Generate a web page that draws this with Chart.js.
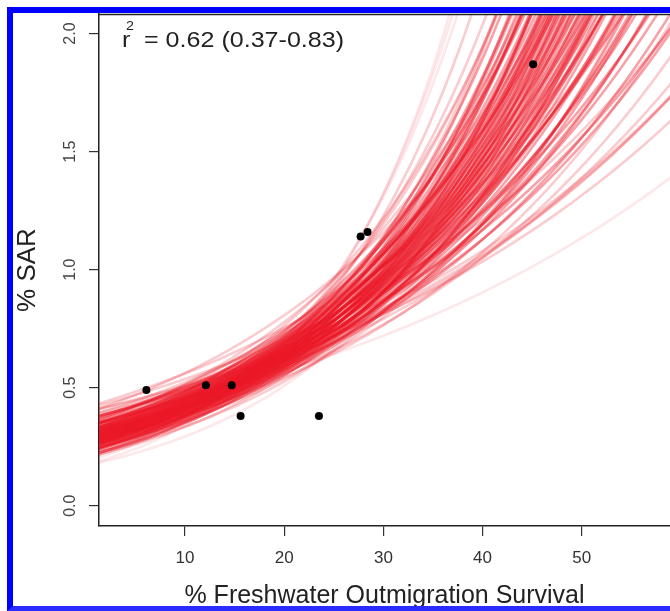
<!DOCTYPE html>
<html><head><meta charset="utf-8">
<script src="https://cdn.jsdelivr.net/npm/chart.js@4/dist/chart.umd.min.js"></script>
<style>
html,body{margin:0;padding:0;background:#fff;overflow:hidden;width:670px;height:611px;}
#wrap{position:relative;width:670px;height:611px;overflow:hidden;}
#c{position:absolute;left:0;top:0;}
#frame{position:absolute;left:7px;top:7px;width:700px;height:593px;border-left:6px solid #0000ff;border-top:6px solid #0000ff;border-bottom:5px solid #2b2bff;pointer-events:none;}
</style></head><body>
<div id="wrap"><canvas id="c" width="670" height="611"></canvas><div id="frame"></div></div>
<script>
// Observed points
const survival = [6.1, 12.1, 14.7, 15.6, 23.5, 27.7, 28.4, 45.1];
const sarPct   = [0.49, 0.51, 0.51, 0.38, 0.38, 1.14, 1.16, 1.87];

// Axis ticks
const xTicks = [10, 20, 30, 40, 50];
const yTicks = [0, 0.5, 1, 1.5, 2];
const yTickLabels = ['0.0', '0.5', '1.0', '1.5', '2.0'];

// Fitted exponential curves: % SAR = level * exp(slope * (survival - 20))
const fitSlope = [
0.0227,0.0256,0.0271,0.0281,0.0290,0.0297,0.0303,0.0307,0.0313,0.0317,
0.0322,0.0324,0.0329,0.0332,0.0335,0.0338,0.0340,0.0343,0.0346,0.0349,
0.0352,0.0353,0.0356,0.0359,0.0361,0.0364,0.0365,0.0368,0.0369,0.0372,
0.0374,0.0375,0.0378,0.0380,0.0381,0.0384,0.0385,0.0387,0.0390,0.0391,
0.0393,0.0394,0.0397,0.0398,0.0400,0.0401,0.0404,0.0406,0.0407,0.0409,
0.0411,0.0413,0.0414,0.0416,0.0419,0.0420,0.0422,0.0423,0.0426,0.0427,
0.0429,0.0430,0.0433,0.0435,0.0436,0.0439,0.0440,0.0442,0.0445,0.0446,
0.0448,0.0451,0.0452,0.0455,0.0456,0.0459,0.0461,0.0464,0.0467,0.0468,
0.0471,0.0474,0.0477,0.0480,0.0482,0.0485,0.0488,0.0491,0.0496,0.0498,
0.0503,0.0507,0.0513,0.0517,0.0523,0.0530,0.0539,0.0549,0.0564,0.0593,
0.0650,0.0620,0.0680,0.0240,0.0250,0.0262];
const fitLevel = [
0.574,0.638,0.704,0.598,0.654,0.754,0.616,0.672,0.562,0.632,
0.694,0.590,0.648,0.729,0.610,0.665,0.544,0.626,0.685,0.582,
0.642,0.713,0.603,0.659,0.807,0.620,0.677,0.572,0.636,0.701,
0.596,0.652,0.746,0.614,0.670,0.558,0.631,0.692,0.588,0.647,
0.724,0.608,0.663,0.537,0.625,0.683,0.580,0.641,0.710,0.601,
0.657,0.778,0.619,0.675,0.569,0.635,0.699,0.594,0.651,0.739,
0.613,0.668,0.554,0.629,0.689,0.586,0.645,0.720,0.606,0.662,
0.526,0.623,0.681,0.577,0.639,0.707,0.600,0.655,0.763,0.617,
0.674,0.566,0.634,0.696,0.592,0.650,0.733,0.611,0.667,0.549,
0.628,0.687,0.584,0.644,0.716,0.605,0.660,0.508,0.622,0.679,
0.690,0.705,0.670,0.640,0.655,0.625];
const fitPivot = 20;

const xTitle = '% Freshwater Outmigration Survival';
const yTitle = '% SAR';
const r2Base = 'r', r2Sup = '2', r2Rest = '= 0.62 (0.37-0.83)';

const FONT = "'Liberation Sans', Arial, sans-serif";
const xMin = 1.32, xMax = 58.9, yMin = -0.086, yMax = 2.083;

// sampling positions along x for drawing each curve
const sampleX = [];
for (let x = 1; x <= 60.001; x += 0.5) sampleX.push(x);

const curveSets = fitSlope.map((s, i) => {
  const l = fitLevel[i];
  const dev = Math.hypot((s - 0.041) / 0.0071, Math.log(l / 0.64) / 0.09);
  const a = dev < 1.8 ? 0.4 : (dev < 2.7 ? 0.22 : 0.1);
  return {
    type: 'line',
    data: sampleX.map(x => ({x: x, y: l * Math.exp(s * (x - fitPivot))})),
    borderColor: `rgba(234,22,38,${a})`,
    borderWidth: 2.6,
    pointRadius: 0,
    fill: false,
    tension: 0,
    clip: 0,
    order: 2
  };
});

const pointSet = {
  type: 'line',
  data: survival.map((x, i) => ({x: x, y: sarPct[i]})),
  showLine: false,
  pointRadius: 4,
  pointBackgroundColor: '#000',
  pointBorderColor: '#000',
  pointBorderWidth: 0,
  order: 0
};

const decor = {
  id: 'decor',
  afterDraw(chart) {
    const ctx = chart.ctx, ca = chart.chartArea, ys = chart.scales.y;
    ctx.save();
    ctx.strokeStyle = '#222'; ctx.lineWidth = 1.5;
    ctx.beginPath(); ctx.moveTo(ca.left, ca.top + 0.5); ctx.lineTo(ca.right, ca.top + 0.5); ctx.stroke();
    ctx.fillStyle = '#444';
    ctx.font = `16px ${FONT}`;
    ctx.textAlign = 'center'; ctx.textBaseline = 'middle';
    yTicks.forEach((v, i) => {
      const py = ys.getPixelForValue(v);
      ctx.save(); ctx.translate(71, py); ctx.rotate(-Math.PI / 2);
      ctx.fillText(yTickLabels[i], 0, 0); ctx.restore();
    });
    ctx.fillStyle = '#222';
    ctx.textAlign = 'left'; ctx.textBaseline = 'alphabetic';
    ctx.save(); ctx.translate(122, 47); ctx.scale(1.14, 1);
    ctx.font = `22px ${FONT}`; ctx.fillText(r2Base, 0, 0); ctx.restore();
    ctx.save(); ctx.translate(126, 30); ctx.scale(1.1, 1);
    ctx.font = `13px ${FONT}`; ctx.fillText(r2Sup, 0, 0); ctx.restore();
    ctx.save(); ctx.translate(144, 47); ctx.scale(1.14, 1);
    ctx.font = `22px ${FONT}`; ctx.fillText(r2Rest, 0, 0); ctx.restore();
    ctx.restore();
  }
};

new Chart(document.getElementById('c'), {
  type: 'line',
  data: { datasets: [pointSet, ...curveSets] },
  options: {
    responsive: false,
    animation: false,
    events: [],
    layout: { autoPadding: false, padding: { top: 14, left: 0, right: 0, bottom: 0 } },
    plugins: { legend: { display: false }, tooltip: { enabled: false } },
    scales: {
      x: {
        type: 'linear', min: xMin, max: xMax, position: 'bottom',
        afterBuildTicks: s => { s.ticks = xTicks.map(v => ({value: v})); },
        afterFit: s => { s.height = 85; },
        ticks: { color: '#333', font: { family: FONT, size: 17 }, padding: 12, maxRotation: 0, callback: v => String(v) },
        grid: { display: true, drawOnChartArea: false, drawTicks: true, tickLength: 10, color: '#333', lineWidth: 1.2 },
        border: { display: true, color: '#222', width: 1.5 },
        title: { display: true, text: xTitle, color: '#222', font: { family: FONT, size: 25 }, padding: { top: 0, bottom: 0 } }
      },
      y: {
        type: 'linear', min: yMin, max: yMax, position: 'left',
        afterBuildTicks: s => { s.ticks = yTicks.map(v => ({value: v})); },
        afterFit: s => { s.width = 99; },
        ticks: { display: false },
        grid: { display: true, drawOnChartArea: false, drawTicks: true, tickLength: 10, color: '#333', lineWidth: 1.2 },
        border: { display: true, color: '#222', width: 1.5 },
        title: { display: true, text: yTitle, color: '#222', font: { family: FONT, size: 26 }, padding: { top: 12, bottom: 0 } }
      }
    }
  },
  plugins: [decor]
});
</script>
</body></html>
